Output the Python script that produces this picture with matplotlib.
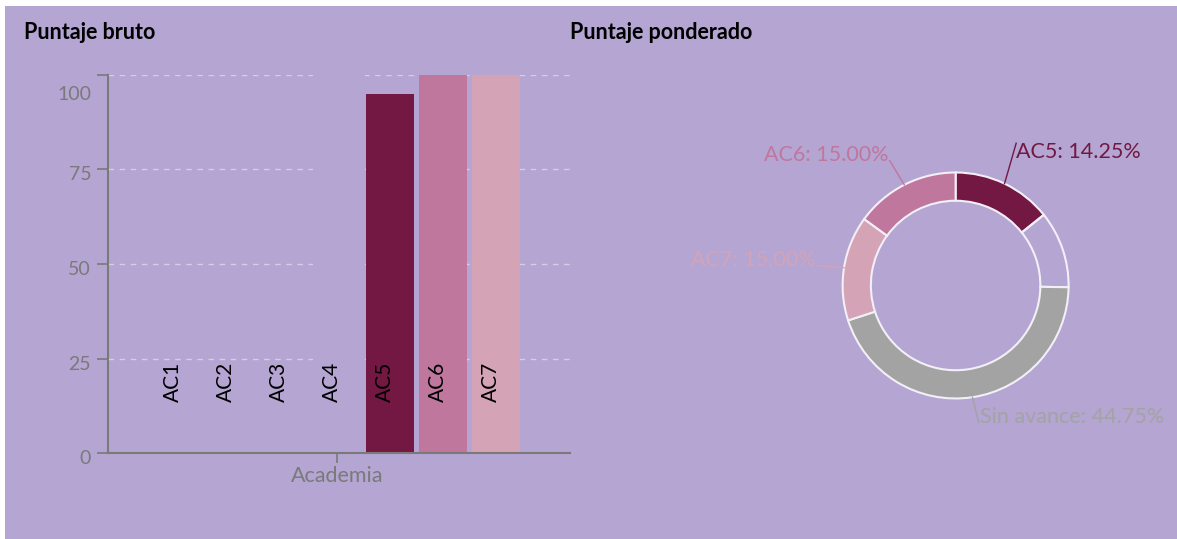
import numpy as np
import matplotlib.pyplot as plt
from matplotlib.patches import Rectangle
from matplotlib.transforms import ScaledTranslation

# data
categories = ['AC1', 'AC2', 'AC3', 'AC4', 'AC5', 'AC6', 'AC7']
raw_scores = [0, 0, 0, 0, 95, 100, 100]
bar_colors = ['#731842', '#731842', '#731842', '#731842', '#731842', '#c0779e', '#d4a3b6']
group_label = 'Academia'
y_ticks = [0, 25, 50, 75, 100]

pie_labels = ['AC5', '', 'Sin avance', 'AC7', 'AC6']
pie_values = [14.25, 11.00, 44.75, 15.00, 15.00]
pie_colors = ['#731842', 'none', '#a3a3a3', '#d4a3b6', '#c0779e']

bg = '#b4a5d2'
grey = '#7a7a7a'
plt.rcParams['font.family'] = ['Lato', 'DejaVu Sans']

fig = plt.figure(figsize=(11.77, 5.39), dpi=100, facecolor='white')
fig.patches.append(Rectangle((5 / 1177, 0), 1, 533 / 539, transform=fig.transFigure,
                             facecolor=bg, edgecolor='none', zorder=-10))

fig.text(24 / 1177, 0.939, 'Puntaje bruto', fontsize=15.5, fontweight='bold', va='center', color='black')
fig.text(570 / 1177, 0.939, 'Puntaje ponderado', fontsize=15.5, fontweight='bold', va='center', color='black')

# ---- bar chart
ax = fig.add_axes([0.0916, 0.159, 0.3927, 0.7026])
ax.set_facecolor('none')
x = np.arange(len(categories))
bars = ax.bar(x, raw_scores, width=0.9, color=bar_colors, zorder=3)
ax.set_xlim(-1.33, 7.39)
ax.set_ylim(0, 100)
ax.set_yticks(y_ticks)
ax.yaxis.grid(True, color='#d6cee6', linestyle=(0, (4, 4)), linewidth=1, zorder=0)
ax.axvspan(2.55, 3.53, color=bg, zorder=1, lw=0)
ax.set_axisbelow(True)
for s in ['top', 'right']:
    ax.spines[s].set_visible(False)
for s in ['left', 'bottom']:
    ax.spines[s].set_color(grey)
    ax.spines[s].set_linewidth(1.5)
    ax.spines[s].set_zorder(4)
ax.tick_params(axis='y', colors=grey, labelsize=14, length=8, width=1.2, pad=4)
ax.set_xticks([x.mean()])
ax.set_xticklabels([group_label])
ax.tick_params(axis='x', colors=grey, labelsize=15.5, length=7, width=1.2, pad=2)
ylabs = ax.get_yticklabels()
for lab in ylabs:
    lab.set_transform(lab.get_transform() + ScaledTranslation(0, -0.04, fig.dpi_scale_trans))
ylabs[-1].set_transform(ylabs[-1].get_transform() + ScaledTranslation(0, -0.14, fig.dpi_scale_trans))
for xi, name in zip(x, categories):
    ax.annotate(name, (xi, 0), xytext=(-4, 37), textcoords='offset points',
                rotation=90, ha='center', va='bottom', fontsize=15, color='black', zorder=5)

# ---- donut
pax = fig.add_axes([0.7159, 0.2607, 0.192, 0.4193])
pax.set_facecolor('none')
wedges, _ = pax.pie(pie_values, colors=pie_colors, startangle=90, counterclock=False,
                    radius=1, wedgeprops=dict(width=0.25, edgecolor='#f2eff7', linewidth=1.5))
pax.set_xlim(-1, 1)
pax.set_ylim(-1, 1)
pax.set_aspect('equal')
pax.axis('off')

label_pos = {'AC5': (0.531, 1.184, 'left'), 'AC6': (-0.598, 1.155, 'right'),
             'AC7': (-1.235, 0.226, 'right'), 'Sin avance': (0.216, -1.161, 'left')}
label_colors = {'AC5': '#731842', 'AC6': '#c0779e', 'AC7': '#d4a3b6', 'Sin avance': '#a3a3a3'}
for w, name, val in zip(wedges, pie_labels, pie_values):
    if not name:
        continue
    ang = np.deg2rad((w.theta1 + w.theta2) / 2)
    ax_, ay_ = np.cos(ang), np.sin(ang)
    tx, ty, ha = label_pos[name]
    c = label_colors[name]
    if name == 'AC5':
        lx, ly = tx + 0.005, ty + 0.075
    elif name == 'Sin avance':
        lx, ly = tx - 0.012, ty - 0.05
    else:
        lx, ly = tx + 0.015, ty - 0.05
    pax.plot([ax_, lx], [ay_, ly], color=c, lw=1, clip_on=False)
    pax.text(tx, ty, f'{name}: {val:.2f}%', ha=ha, va='center', fontsize=15.5,
             color=c, clip_on=False)

fig.savefig('out.png', dpi=100, facecolor=fig.get_facecolor())
